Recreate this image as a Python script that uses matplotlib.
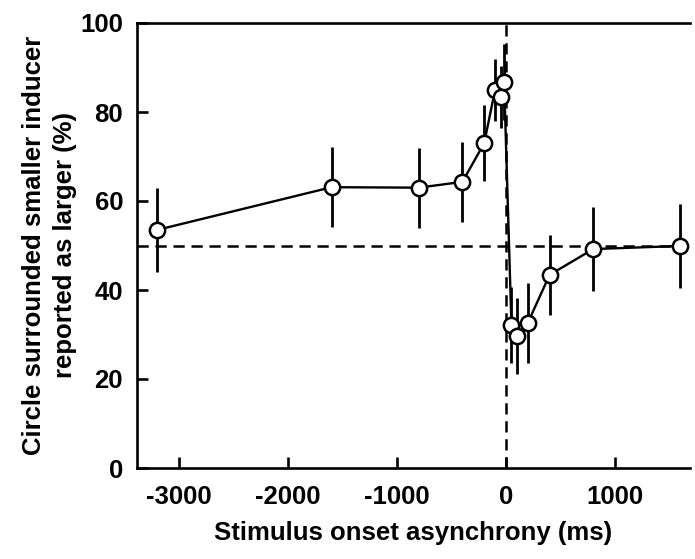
import matplotlib
matplotlib.use("Agg")
import matplotlib.pyplot as plt
import numpy as np

# SOA (ms), percent reported as larger, error half-widths
soa = [-3200, -1600, -800, -400, -200, -100, -50, -17, 50, 100, 200, 400, 800, 1600]
pct = [53.5, 63.1, 63.0, 64.3, 73.0, 85.0, 83.3, 86.7, 32.1, 29.7, 32.6, 43.4, 49.2, 49.9]
err = [9.5, 9.0, 9.0, 9.0, 8.5, 7.0, 7.0, 8.5, 8.5, 8.5, 9.0, 9.0, 9.5, 9.5]

xticks = [-3000, -2000, -1000, 0, 1000]
yticks = [0, 20, 40, 60, 80, 100]

plt.rcParams["font.family"] = ["Liberation Sans", "DejaVu Sans"]
plt.rcParams["font.weight"] = "bold"
plt.rcParams["axes.unicode_minus"] = False

fig = plt.figure(figsize=(6.95, 5.59), dpi=100)
ax = fig.add_axes([137 / 695, 91 / 559, (690 - 137) / 695, (468 - 23) / 559])

ax.axhline(50, color="black", lw=1.8, ls=(0, (4.5, 2.7)), zorder=1)
ax.axvline(0, color="black", lw=1.8, ls=(0, (4.5, 2.7)), zorder=1)

ax.errorbar(soa, pct, yerr=err, fmt="none", ecolor="black", elinewidth=2.0,
            capsize=0, zorder=2)
ax.plot(soa, pct, "-o", color="black", lw=1.7, ms=11, mfc="white",
        mec="black", mew=1.8, zorder=3)

ax.set_xlim(-3385, 1688)
ax.set_ylim(0, 100)
ax.set_xticks(xticks)
ax.set_yticks(yticks)
ax.tick_params(direction="in", length=8, width=1.9, labelsize=18.5)
ax.tick_params(axis="x", pad=12)
ax.tick_params(axis="y", pad=10)
for lab in ax.get_xticklabels() + ax.get_yticklabels():
    lab.set_fontweight("bold")
for s in ["left", "bottom", "top"]:
    ax.spines[s].set_linewidth(1.9)
ax.spines["right"].set_visible(False)

ax.set_xlabel("Stimulus onset asynchrony (ms)", fontsize=18.5, fontweight="bold", labelpad=9)
ax.set_ylabel("Circle surrounded smaller inducer\nreported as larger (%)", fontsize=18.5,
              fontweight="bold", labelpad=2, linespacing=1.4)

fig.savefig("out.png", dpi=100)
